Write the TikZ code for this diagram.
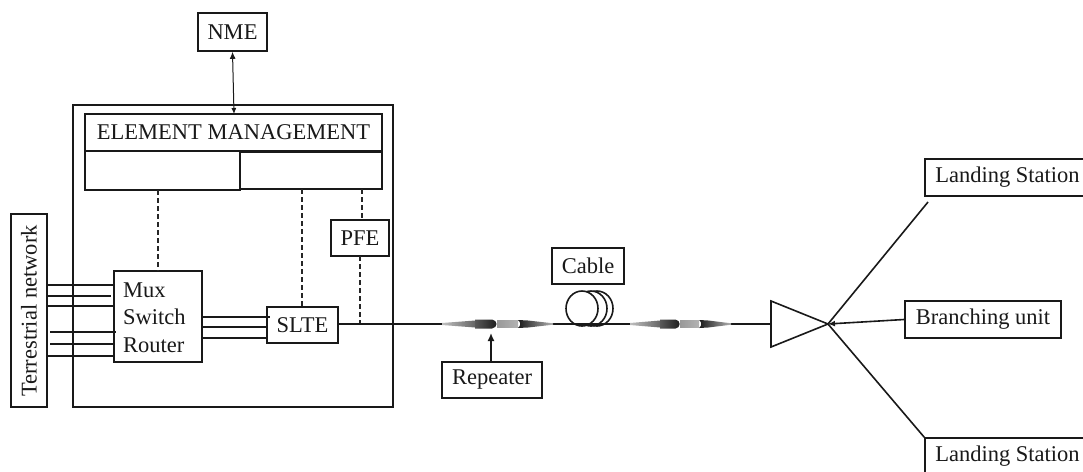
\documentclass[tikz,border=0pt]{standalone}
\usepackage{fontspec}
\usetikzlibrary{arrows.meta}
\setmainfont{Liberation Serif}
\newcommand{\lab}{\fontsize{22.5}{26}\selectfont}
\tikzset{
  x=1pt,y=-1pt,
  lw/.style={line width=1.6pt,draw=black!90},
  thinl/.style={line width=1.5pt,draw=black!90},
  dsh/.style={line width=1.6pt,draw=black!85,dash pattern=on 5pt off 3pt},
  boxed/.style={lw,inner sep=0pt,align=center,font=\lab,text=black!90},
  plain/.style={font=\lab,text=black!90,inner sep=0pt},
}
\newcommand{\bx}[6][]{\node[boxed,minimum width=#4pt-#3pt,minimum height=#6pt-#5pt,#1] (#2) at ({(#3+#4)/2},{(#5+#6)/2})}
\begin{document}
\begin{tikzpicture}
\useasboundingbox (0,0) rectangle (1083,471);
\clip (0,0) rectangle (1083,471);
\fill[white] (0,0) rectangle (1083,471);
\bx{outer}{73}{393}{105}{407} {};
\bx{nme}{198}{267}{13}{51} {NME};
\bx{em}{85}{382}{114}{151} {ELEMENT MANAGEMENT};
\bx{subl}{85}{240}{151}{190} {};
\bx{subr}{240}{382}{152}{189} {};
\bx{pfe}{331}{389}{220}{256} {PFE};
\bx{mux}{114}{202}{271}{362} {};
\node[plain,anchor=west] (muxa) at (123,290) {Mux};
\node[plain,anchor=west] (muxb) at (123,317) {Switch};
\node[plain,anchor=west] (muxc) at (123,345) {Router};
\bx{slte}{267}{338}{307}{343} {SLTE};
\node[boxed,minimum width=36pt,minimum height=193pt] (terr) at (29,310.5) {};
\node[plain,rotate=90] (terrt) at (29,311) {Terrestrial network};
\bx{cable}{552}{624}{248}{284} {Cable};
\bx{rep}{442}{542}{362}{398} {Repeater};
\bx{ls1}{925}{1090}{159}{196} {Landing Station};
\bx{ls2}{925}{1090}{438}{475} {Landing Station};
\bx{bu}{905}{1061}{301}{338} {Branching unit};
% terrestrial and mux links
\foreach \yy/\xa/\xb in {285/47/114,296/47/111,306/47/114,332/50/116,344/50/114,356/47/114}
  \draw[lw] (\xa,\yy) -- (\xb,\yy);
\foreach \yy/\xb in {317/270,327/267,338/267}
  \draw[lw] (202,\yy) -- (\xb,\yy);
% dashed
\draw[dsh] (158,190) -- (158,271);
\draw[dsh] (302,189) -- (302,307);
\draw[dsh] (362,189) -- (362,220);
\draw[dsh] (360,256) -- (360,324);
% main line
\coordinate (r1a) at (442,324); \coordinate (r1b) at (552,324);
\coordinate (r2a) at (630,324); \coordinate (r2b) at (730,324);
\coordinate (tip) at (828,324);
\draw[thinl] (slte.east|-r1a) -- (r1a);
\draw[thinl] (r2b) -- (771,324);
% coil
\foreach \cx in {597,591,582}
  \draw[lw,fill=white] (\cx,308.5) ellipse (16pt and 17.5pt);
\draw[thinl] (r1b) -- (r2a);
% repeaters
\foreach \o/\s in {442/1,630/0.91}{
\begin{scope}[shift={(\o,324)},xscale=\s]
  \shade[left color=black!25,right color=black!60] (0,-1) -- (33,-3.5) -- (33,3.5) -- (0,1) -- cycle;
  \shade[left color=black!65,right color=black!90] (33,-4.5) -- (50,-4.5) .. controls (56,-4) and (56,4) .. (50,4.5) -- (33,4.5) -- cycle;
  \shade[left color=black!40,right color=black!30] (55,-3.5) -- (76,-3.5) -- (76,3.5) -- (55,3.5) -- cycle;
  \shade[left color=black!90,right color=black!30] (76,-4) -- (86,-3.5) -- (111,-0.7) -- (111,0.7) -- (86,3.5) -- (76,4) .. controls (79,2) and (79,-2) .. (76,-4) -- cycle;
\end{scope}}
% branching
\draw[lw] (771,301) -- (tip) -- (771,347) -- cycle;
\draw[lw] (tip) -- (928,202);
\draw[lw] (tip) -- (ls2.north west);
\draw[lw,-{Latex[length=7pt,width=6pt]}] (bu.west) -- (tip);
\draw[thinl,-{Latex[length=8pt,width=7pt]}] (rep.north-|491,0) -- (491,333);
\draw[line width=1pt,draw=black!90,{Latex[length=7pt,width=6pt]}-{Latex[length=6pt,width=5pt]}] (nme.south) -- (234,114);
\end{tikzpicture}
\end{document}
